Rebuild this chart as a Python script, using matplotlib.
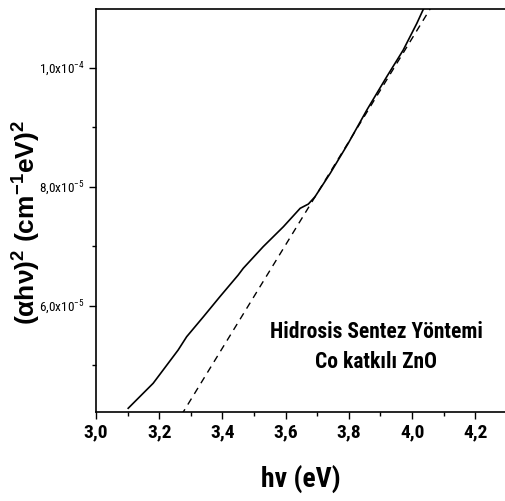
import numpy as np
import matplotlib.pyplot as plt
from matplotlib.ticker import FixedLocator, MultipleLocator

plt.rcParams['font.family'] = ['Roboto Condensed', 'DejaVu Sans']
plt.rcParams['mathtext.fontset'] = 'custom'
plt.rcParams['mathtext.rm'] = 'Roboto Condensed'
plt.rcParams['mathtext.bf'] = 'Liberation Sans:bold'

# ölçülen eğri (okunan değerler)
hv = [3.102, 3.181, 3.260, 3.287, 3.340, 3.392, 3.450, 3.466, 3.529, 3.593,
      3.646, 3.672, 3.693, 3.741, 3.798, 3.857, 3.920, 3.972, 4.015, 4.036, 4.06]
ahv2 = [4.276e-5, 4.696e-5, 5.255e-5, 5.479e-5, 5.815e-5, 6.151e-5, 6.516e-5,
        6.629e-5, 6.992e-5, 7.328e-5, 7.637e-5, 7.709e-5, 7.832e-5, 8.225e-5,
        8.729e-5, 9.29e-5, 9.85e-5, 1.0297e-4, 1.0745e-4, 1.0987e-4, 1.12e-4]

# doğrusal fit (kesikli çizgi)
fit_x = [3.27, 4.07]
fit_y = [4.16e-5, 1.110e-4]

ytick_vals = [6.0e-5, 8.0e-5, 1.0e-4]
ytick_labels = ['6,0x10$^{-5}$', '8,0x10$^{-5}$', '1,0x10$^{-4}$']
xtick_vals = [3.0, 3.2, 3.4, 3.6, 3.8, 4.0, 4.2]
xtick_labels = ['3,0', '3,2', '3,4', '3,6', '3,8', '4,0', '4,2']

fig = plt.figure(figsize=(5.05, 5.01), dpi=100)
ax = fig.add_axes([0.190, 0.1776, 0.81, 0.8044])

ax.plot(hv, ahv2, color='black', lw=1.2)
ax.plot(fit_x, fit_y, color='black', lw=1.0, dashes=(5, 4))

ax.set_xlim(3.0, 4.294)
ax.set_ylim(4.213e-5, 1.0987e-4)

ax.xaxis.set_major_locator(FixedLocator(xtick_vals))
ax.set_xticklabels(xtick_labels, fontsize=14, fontweight='bold')
ax.xaxis.set_minor_locator(MultipleLocator(0.1))
ax.yaxis.set_major_locator(FixedLocator(ytick_vals))
ax.set_yticklabels(ytick_labels, fontsize=9.5)
ax.yaxis.set_minor_locator(FixedLocator([5.0e-5, 7.0e-5, 9.0e-5]))

ax.tick_params(direction='out', length=5, width=1, pad=3)
ax.tick_params(which='minor', direction='out', length=3, width=1)
ax.spines['right'].set_visible(False)
for s in ['left', 'bottom', 'top']:
    ax.spines[s].set_linewidth(1.2)

ax.set_xlabel('h\u03bd (eV)', fontsize=20, fontweight='bold', labelpad=17)
ax.set_ylabel('(\u03b1h\u03bd)$^{\\mathbf{2}}$ (cm$^{\\mathbf{-1}}$eV)$^{\\mathbf{2}}$',
              fontsize=19, fontweight='bold', family='Liberation Sans')
ax.yaxis.set_label_coords(-0.133, 0.469)

ax.text(0.685, 0.161, 'Hidrosis Sentez Yöntemi\nCo katkılı ZnO', transform=ax.transAxes,
        ha='center', va='center', fontsize=15.5, fontweight='bold', linespacing=1.45)

fig.savefig('out.png', dpi=100)
